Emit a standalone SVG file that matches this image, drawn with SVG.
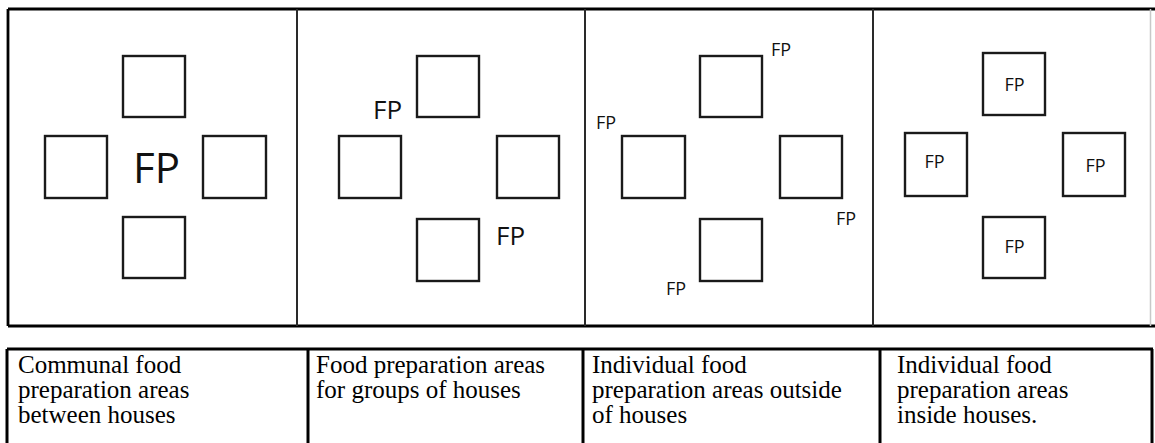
<svg xmlns="http://www.w3.org/2000/svg" width="1155" height="443" viewBox="0 0 1155 443">
  <style>
    .house { fill: none; stroke: #1a1a1a; stroke-width: 2.4; }
    .fp { font-family: "Open Sans", "Liberation Sans", sans-serif; fill: #111; }
    .frame { stroke: #000; stroke-width: 2.8; fill: none; }
    .divider { stroke: #2a2a2a; stroke-width: 2; }
    .cell { font-family: "Liberation Serif", "DejaVu Serif", "Times New Roman", serif; font-size: 25px; fill: #000; }
    .grid { stroke: #000; stroke-width: 3; fill: none; }
  </style>

  <rect width="1155" height="443" fill="#fff"/>

  <!-- upper frame holding the four layouts -->
  <g id="plan-frame">
    <line class="frame" x1="8" y1="9" x2="1155" y2="9"/>
    <line class="frame" x1="8" y1="326" x2="1155" y2="326"/>
    <line class="frame" x1="8" y1="9" x2="8" y2="326"/>
    <line x1="1150.5" y1="9" x2="1150.5" y2="326" stroke="#c8c8c8" stroke-width="1.5"/>
    <line class="divider" x1="297" y1="9" x2="297" y2="326"/>
    <line class="divider" x1="585" y1="9" x2="585" y2="326"/>
    <line class="divider" x1="873" y1="9" x2="873" y2="326"/>
  </g>

  <!-- layout 1: one shared area in the middle -->
  <g id="layout-communal">
    <rect class="house" x="123" y="56" width="62" height="61"/>
    <rect class="house" x="45" y="136" width="62" height="62"/>
    <rect class="house" x="203" y="136" width="63" height="62"/>
    <rect class="house" x="123" y="217" width="62" height="61"/>
    <text class="fp" x="156.5" y="183" font-size="42" text-anchor="middle">FP</text>
  </g>

  <!-- layout 2: areas shared by pairs of houses -->
  <g id="layout-groups">
    <rect class="house" x="417" y="56" width="62" height="61"/>
    <rect class="house" x="339" y="136" width="62" height="62"/>
    <rect class="house" x="497" y="136" width="62" height="62"/>
    <rect class="house" x="417" y="219" width="62" height="62"/>
    <text class="fp" x="373" y="119" font-size="26">FP</text>
    <text class="fp" x="496" y="245" font-size="26">FP</text>
  </g>

  <!-- layout 3: one area beside each house -->
  <g id="layout-outside">
    <rect class="house" x="700" y="56" width="62" height="61"/>
    <rect class="house" x="622" y="136" width="63" height="62"/>
    <rect class="house" x="780" y="136" width="62" height="62"/>
    <rect class="house" x="700" y="219" width="62" height="62"/>
    <text class="fp" x="771" y="56" font-size="18">FP</text>
    <text class="fp" x="596" y="129" font-size="18">FP</text>
    <text class="fp" x="836" y="225" font-size="18">FP</text>
    <text class="fp" x="666" y="295" font-size="18">FP</text>
  </g>

  <!-- layout 4: area inside each house -->
  <g id="layout-inside">
    <rect class="house" x="983" y="53" width="62" height="62"/>
    <rect class="house" x="905" y="133" width="62" height="63"/>
    <rect class="house" x="1063" y="133" width="62" height="63"/>
    <rect class="house" x="983" y="217" width="62" height="61"/>
    <text class="fp" x="1014.5" y="91" font-size="18" text-anchor="middle">FP</text>
    <text class="fp" x="934.5" y="168" font-size="18" text-anchor="middle">FP</text>
    <text class="fp" x="1095.5" y="172" font-size="18" text-anchor="middle">FP</text>
    <text class="fp" x="1014.5" y="253" font-size="18" text-anchor="middle">FP</text>
  </g>

  <!-- caption table -->
  <g id="caption-table">
    <line class="grid" x1="7" y1="349" x2="1153" y2="349"/>
    <line class="grid" x1="7" y1="349" x2="7" y2="443"/>
    <line class="grid" x1="1152" y1="349" x2="1152" y2="443"/>
    <line class="grid" x1="308" y1="349" x2="308" y2="443"/>
    <line class="grid" x1="583" y1="349" x2="583" y2="443"/>
    <line class="grid" x1="880" y1="349" x2="880" y2="443"/>
  </g>

  <g id="caption-communal">
    <text class="cell" x="18" y="373">Communal food</text>
    <text class="cell" x="18" y="398">preparation areas</text>
    <text class="cell" x="18" y="423">between houses</text>
  </g>
  <g id="caption-groups">
    <text class="cell" x="316" y="373">Food preparation areas</text>
    <text class="cell" x="316" y="398">for groups of houses</text>
  </g>
  <g id="caption-outside">
    <text class="cell" x="592" y="373">Individual food</text>
    <text class="cell" x="592" y="398">preparation areas outside</text>
    <text class="cell" x="592" y="423">of houses</text>
  </g>
  <g id="caption-inside">
    <text class="cell" x="897" y="373">Individual food</text>
    <text class="cell" x="897" y="398">preparation areas</text>
    <text class="cell" x="897" y="423">inside houses.</text>
  </g>
</svg>
